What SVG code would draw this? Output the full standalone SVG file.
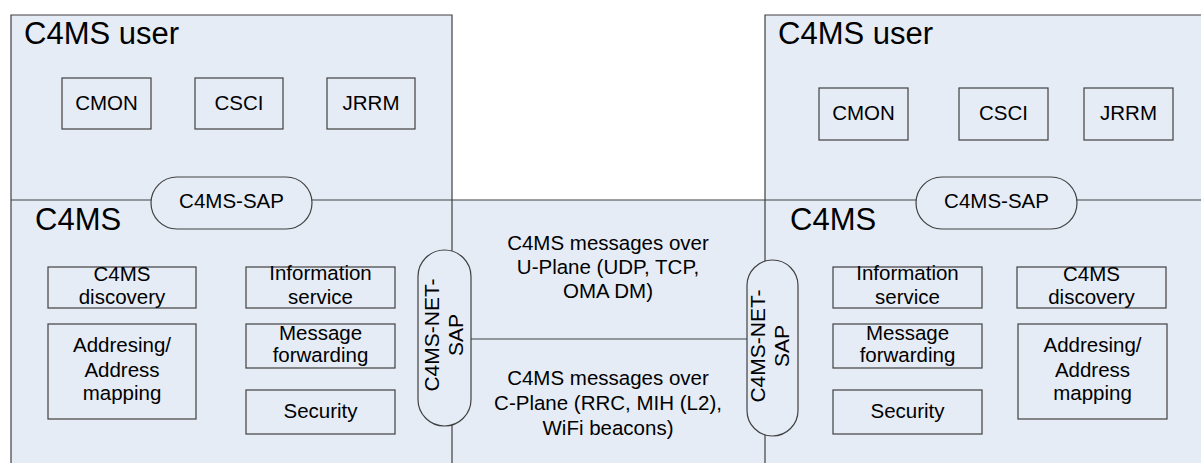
<svg xmlns="http://www.w3.org/2000/svg" width="1201" height="463" viewBox="0 0 1201 463">
<style>
.bg{fill:#E6ECF6;stroke:none}
.ln{stroke:#404040;stroke-width:1.2;fill:none}
.box{fill:#E6ECF6;stroke:#404040;stroke-width:1.2}
.t{font-family:"Liberation Sans",Arial,sans-serif;font-size:20.5px;fill:#000;text-anchor:middle}
.n{font-size:21px}
.h{font-family:"Liberation Sans",Arial,sans-serif;font-size:31px;fill:#000}
</style>
<rect width="1201" height="463" fill="#fff"/>
<g id="regions">
<rect class="bg" x="11" y="15" width="441" height="460"/>
<rect class="bg" x="452" y="200" width="313" height="270"/>
<rect class="bg" x="765" y="15" width="440" height="460"/>
<path class="ln" d="M11,475 V15 H452 V475 M765,475 V15 H1205 M11,200 H1205"/>
</g>
<g id="connectors">
<line class="ln" x1="471" y1="339" x2="747" y2="339"/>
</g>
<g id="left-user">
<text class="h" x="24" y="44">C4MS user</text>
</g>
<g id="left-cmon"><rect class="box" x="62" y="78" width="89" height="51"/><text class="t" x="106.5" y="110">CMON</text></g>
<g id="left-csci"><rect class="box" x="195" y="78" width="88" height="51"/><text class="t" x="239" y="110">CSCI</text></g>
<g id="left-jrrm"><rect class="box" x="327" y="78" width="88" height="51"/><text class="t" x="371" y="110">JRRM</text></g>
<g id="left-sap"><rect class="box" x="151" y="177" width="161" height="52" rx="26" ry="26"/><text class="t" x="231.5" y="208">C4MS-SAP</text></g>
<g id="left-c4ms"><text class="h" x="35" y="230">C4MS</text></g>
<g id="left-discovery"><rect class="box" x="48" y="267" width="148" height="41"/><text class="t" x="122" y="281">C4MS</text><text class="t" x="122" y="304">discovery</text></g>
<g id="left-addressing"><rect class="box" x="48" y="324" width="148" height="95"/><text class="t" x="122" y="352">Addresing/</text><text class="t" x="122" y="377">Address</text><text class="t" x="122" y="400">mapping</text></g>
<g id="left-info"><rect class="box" x="246" y="267" width="149" height="41"/><text class="t" x="320.5" y="280">Information</text><text class="t" x="320.5" y="304">service</text></g>
<g id="left-msg"><rect class="box" x="246" y="324" width="149" height="44"/><text class="t" x="320.5" y="340">Message</text><text class="t" x="320.5" y="362">forwarding</text></g>
<g id="left-sec"><rect class="box" x="246" y="390" width="149" height="44"/><text class="t" x="320.5" y="418">Security</text></g>
<g id="left-netsap"><rect class="box" x="418" y="250" width="53" height="176" rx="26.5" ry="26.5"/>
<g transform="translate(444.5,335) rotate(-90)"><text class="t n" x="0" y="-5.5">C4MS-NET-</text><text class="t n" x="0" y="18.5">SAP</text></g></g>
<g id="uplane"><text class="t" x="608" y="250">C4MS messages over</text><text class="t" x="608" y="274">U-Plane (UDP, TCP,</text><text class="t" x="608" y="298">OMA DM)</text></g>
<g id="cplane"><text class="t" x="608" y="385">C4MS messages over</text><text class="t" x="608" y="410">C-Plane (RRC, MIH (L2),</text><text class="t" x="608" y="435">WiFi beacons)</text></g>
<g id="right-netsap"><rect class="box" x="747" y="260" width="51" height="176" rx="25.5" ry="25.5"/>
<g transform="translate(772.5,346) rotate(-90)"><text class="t n" x="0" y="-7.5">C4MS-NET-</text><text class="t n" x="0" y="16.5">SAP</text></g></g>
<g id="right-user"><text class="h" x="778" y="44">C4MS user</text></g>
<g id="right-cmon"><rect class="box" x="819" y="88" width="89" height="52"/><text class="t" x="863.5" y="120">CMON</text></g>
<g id="right-csci"><rect class="box" x="959" y="88" width="89" height="52"/><text class="t" x="1003.5" y="120">CSCI</text></g>
<g id="right-jrrm"><rect class="box" x="1084" y="88" width="89" height="52"/><text class="t" x="1128.5" y="120">JRRM</text></g>
<g id="right-sap"><rect class="box" x="916" y="177" width="161" height="52" rx="26" ry="26"/><text class="t" x="996.5" y="208">C4MS-SAP</text></g>
<g id="right-c4ms"><text class="h" x="790" y="230">C4MS</text></g>
<g id="right-info"><rect class="box" x="833" y="267" width="149" height="41"/><text class="t" x="907.5" y="280">Information</text><text class="t" x="907.5" y="304">service</text></g>
<g id="right-msg"><rect class="box" x="833" y="324" width="149" height="44"/><text class="t" x="907.5" y="340">Message</text><text class="t" x="907.5" y="362">forwarding</text></g>
<g id="right-sec"><rect class="box" x="833" y="390" width="149" height="44"/><text class="t" x="907.5" y="418">Security</text></g>
<g id="right-discovery"><rect class="box" x="1017" y="267" width="149" height="41"/><text class="t" x="1091.5" y="281">C4MS</text><text class="t" x="1091.5" y="304">discovery</text></g>
<g id="right-addressing"><rect class="box" x="1018" y="324" width="149" height="95"/><text class="t" x="1092.5" y="352">Addresing/</text><text class="t" x="1092.5" y="377">Address</text><text class="t" x="1092.5" y="400">mapping</text></g>
</svg>
